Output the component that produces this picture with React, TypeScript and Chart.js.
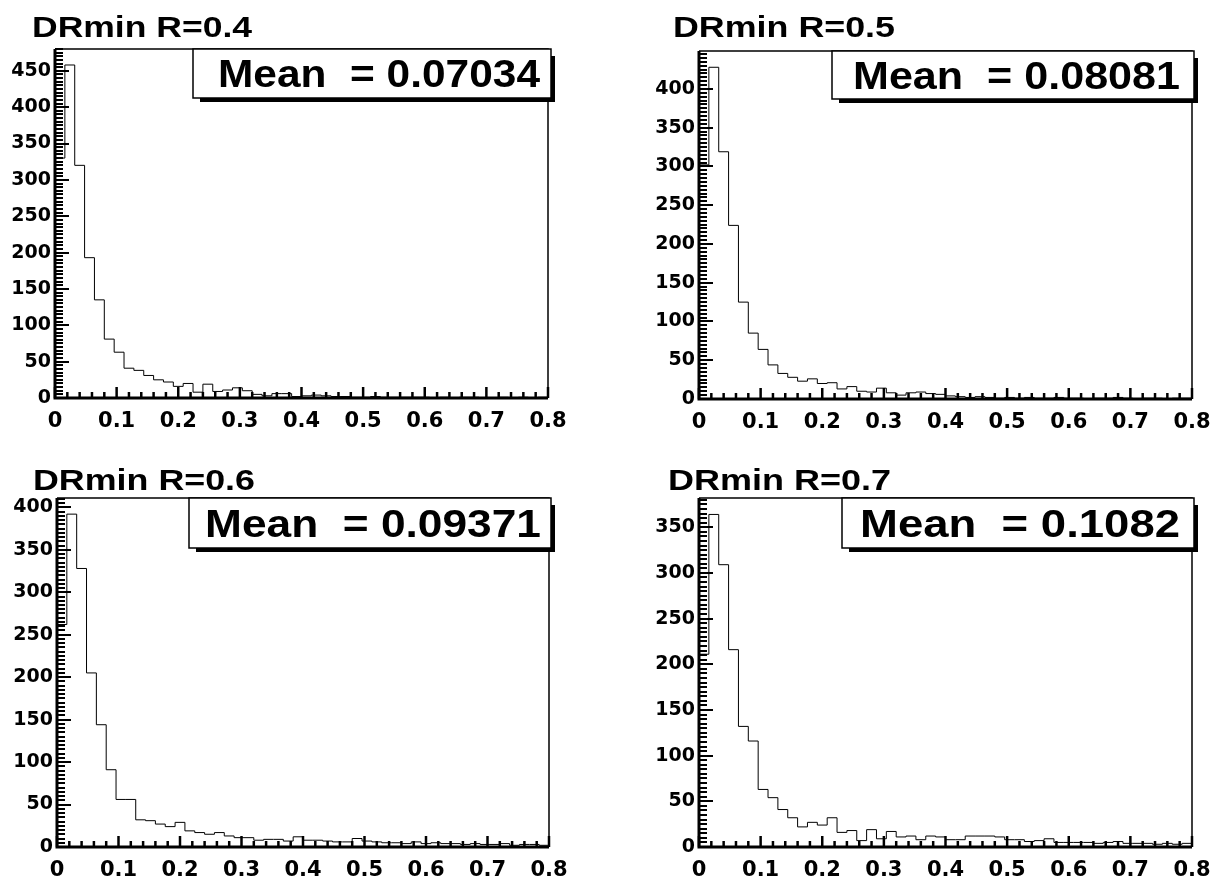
import React, { useEffect, useRef } from "react";
import { Chart, registerables } from "chart.js";

Chart.register(...registerables);

// ---------- data ----------
const X_MIN = 0;
const X_MAX = 0.8;

const titles = ["DRmin R=0.4", "DRmin R=0.5", "DRmin R=0.6", "DRmin R=0.7"];
const meanLabels = ["Mean  = 0.07034", "Mean  = 0.08081", "Mean  = 0.09371", "Mean  = 0.1082"];

// 50 bins from 0 to 0.8
const countsR04 = [
  330, 458, 320, 193, 135, 81, 63, 41, 38, 31,
  25, 22, 16, 20, 8, 19, 9, 11, 14, 10,
  5, 3, 6, 6, 2, 3, 4, 3, 2, 2,
  1, 1, 2, 1, 1, 1, 1, 1, 0, 1,
  0, 1, 1, 0, 0, 1, 0, 1, 0, 1,
];
const countsR05 = [
  302, 428, 319, 224, 125, 85, 64, 44, 33, 28,
  23, 26, 20, 21, 13, 16, 10, 9, 14, 8,
  5, 8, 9, 7, 6, 4, 3, 2, 3, 2,
  1, 2, 1, 2, 1, 1, 2, 1, 1, 0,
  1, 1, 2, 1, 0, 1, 1, 0, 1, 1,
];
const countsR06 = [
  262, 392, 328, 205, 144, 91, 56, 56, 32, 31,
  27, 24, 29, 19, 17, 15, 17, 13, 11, 11,
  8, 9, 9, 7, 12, 8, 8, 7, 6, 6,
  10, 7, 6, 5, 5, 4, 6, 4, 5, 4,
  4, 3, 4, 3, 3, 4, 2, 3, 3, 2,
];
const countsR07 = [
  211, 364, 309, 216, 132, 116, 63, 54, 41, 32,
  22, 27, 24, 32, 16, 18, 7, 19, 9, 17,
  11, 12, 8, 12, 11, 8, 8, 12, 12, 12,
  11, 8, 8, 6, 7, 9, 5, 5, 5, 5,
  4, 5, 6, 4, 4, 4, 3, 4, 3, 4,
];
const seriesCounts = [countsR04, countsR05, countsR06, countsR07];

const yAxisMax = [480, 449, 411, 382];

const xTickValues = [0, 0.1, 0.2, 0.3, 0.4, 0.5, 0.6, 0.7, 0.8];
const xTickLabels = ["0", "0.1", "0.2", "0.3", "0.4", "0.5", "0.6", "0.7", "0.8"];

const yTickValuesR04 = [0, 50, 100, 150, 200, 250, 300, 350, 400, 450];
const yTickValuesR05 = [0, 50, 100, 150, 200, 250, 300, 350, 400];
const yTickValuesR06 = [0, 50, 100, 150, 200, 250, 300, 350, 400];
const yTickValuesR07 = [0, 50, 100, 150, 200, 250, 300, 350];
const yTickValues = [yTickValuesR04, yTickValuesR05, yTickValuesR06, yTickValuesR07];

// ---------- layout (canvas-local pixels) ----------
type PanelLayout = {
  left: number; top: number; w: number; h: number;
  area: { l: number; t: number; r: number; b: number };
  title: { x0: number; x1: number; base: number };
  box: { x0: number; y0: number; x1: number; y1: number };
  mean: { x0: number; x1: number };
};

const layouts: PanelLayout[] = [
  { left: 0, top: 0, w: 612, h: 440, area: { l: 55, t: 49, r: 548, b: 398 },
    title: { x0: 32, x1: 252, base: 37 }, box: { x0: 193, y0: 49, x1: 551, y1: 98 }, mean: { x0: 218, x1: 540 } },
  { left: 612, top: 0, w: 612, h: 440, area: { l: 87, t: 51, r: 580, b: 399 },
    title: { x0: 61, x1: 283, base: 37 }, box: { x0: 220, y0: 51, x1: 582, y1: 99 }, mean: { x0: 241, x1: 568 } },
  { left: 0, top: 440, w: 612, h: 439, area: { l: 57, t: 58, r: 549, b: 407 },
    title: { x0: 33, x1: 255, base: 50 }, box: { x0: 189, y0: 58, x1: 551, y1: 108 }, mean: { x0: 205, x1: 541 } },
  { left: 612, top: 440, w: 612, h: 439, area: { l: 87, t: 58, r: 580, b: 407 },
    title: { x0: 56, x1: 279, base: 50 }, box: { x0: 230, y0: 58, x1: 582, y1: 108 }, mean: { x0: 248, x1: 568 } },
];

function drawStretched(ctx: CanvasRenderingContext2D, text: string, x0: number, x1: number, base: number, font: string) {
  ctx.font = font;
  const w = ctx.measureText(text).width;
  const sx = (x1 - x0) / w;
  ctx.save();
  ctx.translate(x0, base);
  ctx.scale(sx, 1);
  ctx.textAlign = "left";
  ctx.textBaseline = "alphabetic";
  ctx.fillStyle = "#000";
  ctx.fillText(text, 0, 0);
  ctx.restore();
}

function makeRootPlugin(idx: number) {
  const L = layouts[idx];
  return {
    id: "rootStyle" + idx,
    afterDatasetsDraw(chart: any) {
      const { ctx, chartArea: a, scales } = chart;
      const x = scales.x;
      const y = scales.y;
      ctx.save();
      ctx.strokeStyle = "#000";
      ctx.lineCap = "butt";
      // thin frame top & right
      ctx.lineWidth = 1.5;
      ctx.beginPath();
      ctx.moveTo(a.left, a.top);
      ctx.lineTo(a.right, a.top);
      ctx.lineTo(a.right, a.bottom);
      ctx.stroke();
      // thick axes
      ctx.lineWidth = 3;
      ctx.beginPath();
      ctx.moveTo(a.left, a.top);
      ctx.lineTo(a.left, a.bottom);
      ctx.lineTo(a.right, a.bottom);
      ctx.stroke();
      // y ticks (inward)
      ctx.lineWidth = 2;
      for (let v = 0; v <= y.max + 1e-9; v += 5) {
        const py = Math.round(y.getPixelForValue(v));
        const major = Math.abs(v % 50) < 1e-6;
        const len = major ? 14 : 8;
        ctx.beginPath();
        ctx.moveTo(a.left, py);
        ctx.lineTo(a.left + len, py);
        ctx.stroke();
      }
      // x ticks (inward)
      ctx.lineWidth = 2.5;
      for (let i = 0; i <= 40; i++) {
        const v = X_MIN + (i * (X_MAX - X_MIN)) / 40;
        const px = x.getPixelForValue(v);
        const major = i % 5 === 0;
        const len = major ? 11 : 6;
        ctx.beginPath();
        ctx.moveTo(px, a.bottom);
        ctx.lineTo(px, a.bottom - len);
        ctx.stroke();
      }
      ctx.restore();
    },
    afterDraw(chart: any) {
      const ctx: CanvasRenderingContext2D = chart.ctx;
      ctx.save();
      // title
      drawStretched(ctx, titles[idx], L.title.x0, L.title.x1, L.title.base, "bold 29px 'Liberation Sans'");
      // stats box with shadow
      const b = L.box;
      ctx.fillStyle = "#000";
      ctx.fillRect(b.x0 + 7, b.y1, b.x1 - b.x0 - 3, 4);
      ctx.fillRect(b.x1, b.y0 + 7, 4, b.y1 - b.y0 - 3);
      ctx.fillStyle = "#fff";
      ctx.fillRect(b.x0, b.y0, b.x1 - b.x0, b.y1 - b.y0);
      ctx.strokeStyle = "#000";
      ctx.lineWidth = 1.5;
      ctx.strokeRect(b.x0, b.y0, b.x1 - b.x0, b.y1 - b.y0);
      const cap = 27;
      const base = (b.y0 + b.y1) / 2 + cap / 2;
      drawStretched(ctx, meanLabels[idx], L.mean.x0, L.mean.x1, base, "bold 38px 'Liberation Sans'");
      ctx.restore();
    },
  };
}

function Panel({ idx }: { idx: number }) {
  const ref = useRef<HTMLCanvasElement | null>(null);
  useEffect(() => {
    const canvas = ref.current;
    if (!canvas) return;
    const L = layouts[idx];
    const counts = seriesCounts[idx];
    const binW = (X_MAX - X_MIN) / counts.length;
    const pts = counts.map((c, i) => ({ x: X_MIN + i * binW, y: c }));
    pts.push({ x: X_MAX, y: counts[counts.length - 1] });
    const yTicks = yTickValues[idx];

    const chart = new Chart(canvas, {
      type: "line",
      data: {
        datasets: [
          {
            data: pts,
            stepped: "before",
            borderColor: "#000",
            borderWidth: 1,
            pointRadius: 0,
            fill: false,
            tension: 0,
          } as any,
        ],
      },
      options: {
        animation: false,
        responsive: false,
        events: [],
        layout: { padding: { top: L.area.t, right: L.w - L.area.r, left: 0, bottom: 0 } },
        plugins: {
          legend: { display: false },
          tooltip: { enabled: false },
          title: { display: false },
        },
        scales: {
          x: {
            type: "linear",
            min: X_MIN,
            max: X_MAX,
            grid: { display: false, drawTicks: false },
            border: { display: false },
            afterBuildTicks: (s: any) => {
              s.ticks = xTickValues.map((v) => ({ value: v }));
            },
            afterFit: (s: any) => {
              s.height = L.h - L.area.b;
            },
            ticks: {
              autoSkip: false,
              maxRotation: 0,
              minRotation: 0,
              padding: 11,
              color: "#000",
              font: { family: "'DejaVu Sans'", weight: "bold", size: 21 },
              callback: (_v: any, i: number) => xTickLabels[i],
            },
          },
          y: {
            type: "linear",
            min: 0,
            max: yAxisMax[idx],
            grid: { display: false, drawTicks: false },
            border: { display: false },
            afterBuildTicks: (s: any) => {
              s.ticks = yTicks.map((v) => ({ value: v }));
            },
            afterFit: (s: any) => {
              s.width = L.area.l;
            },
            ticks: {
              autoSkip: false,
              padding: 4,
              color: "#000",
              font: { family: "'DejaVu Sans'", weight: "bold", size: 19 },
              callback: (_v: any, i: number) => String(yTicks[i]),
            },
          },
        },
      } as any,
      plugins: [makeRootPlugin(idx)],
    });
    return () => chart.destroy();
  }, [idx]);

  const L = layouts[idx];
  return (
    <canvas
      ref={ref}
      width={L.w}
      height={L.h}
      style={{ position: "absolute", left: L.left, top: L.top, width: L.w, height: L.h }}
    />
  );
}

export default function App() {
  return (
    <div style={{ position: "absolute", left: 0, top: 0, width: 1224, height: 879, background: "#fff", overflow: "hidden" }}>
      {[0, 1, 2, 3].map((i) => (
        <Panel key={i} idx={i} />
      ))}
    </div>
  );
}
